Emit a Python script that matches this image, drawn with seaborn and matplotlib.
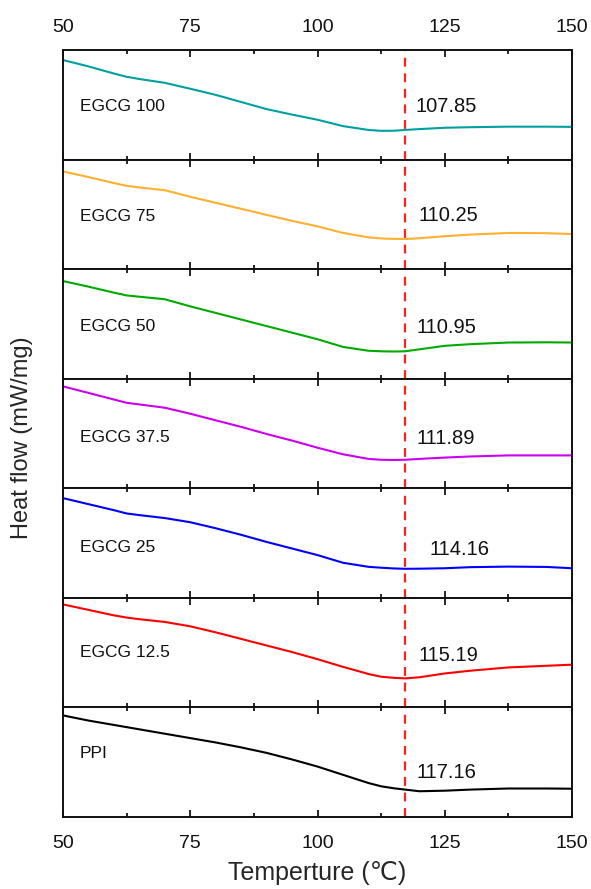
import numpy as np
import pandas as pd
import seaborn as sns
import matplotlib.pyplot as plt
from matplotlib.ticker import MultipleLocator

# Temperature sample points (°C)
temps = [50, 55, 60, 62.5, 65, 70, 75, 80, 85, 90, 95, 100, 105, 110,
         112.5, 115, 117.2, 120, 125, 130, 137.5, 145, 150]

# Heat flow, normalised per panel (1 = panel top, 0 = panel bottom)
egcg_100 = [0.908, 0.85, 0.785, 0.755, 0.735, 0.70, 0.646, 0.59, 0.525, 0.46, 0.41, 0.363,
            0.305, 0.27, 0.262, 0.263, 0.27, 0.278, 0.29, 0.295, 0.30, 0.30, 0.298]
egcg_75 = [0.891, 0.84, 0.785, 0.76, 0.745, 0.72, 0.66, 0.605, 0.55, 0.495, 0.44, 0.39,
           0.33, 0.29, 0.28, 0.276, 0.275, 0.282, 0.30, 0.315, 0.33, 0.328, 0.32]
egcg_50 = [0.891, 0.84, 0.785, 0.76, 0.748, 0.725, 0.66, 0.60, 0.54, 0.48, 0.42, 0.36,
           0.29, 0.255, 0.25, 0.248, 0.25, 0.268, 0.30, 0.315, 0.33, 0.332, 0.33]
egcg_375 = [0.93, 0.87, 0.81, 0.78, 0.765, 0.735, 0.68, 0.62, 0.56, 0.495, 0.435, 0.37,
            0.31, 0.268, 0.26, 0.258, 0.26, 0.268, 0.28, 0.29, 0.30, 0.30, 0.30]
egcg_25 = [0.91, 0.855, 0.80, 0.77, 0.755, 0.728, 0.69, 0.635, 0.575, 0.51, 0.45, 0.39,
           0.32, 0.283, 0.275, 0.268, 0.265, 0.266, 0.27, 0.28, 0.285, 0.282, 0.27]
egcg_125 = [0.94, 0.89, 0.84, 0.82, 0.805, 0.78, 0.74, 0.685, 0.625, 0.565, 0.505, 0.44,
            0.37, 0.305, 0.28, 0.27, 0.265, 0.275, 0.31, 0.335, 0.365, 0.38, 0.39]
ppi = [0.927, 0.88, 0.84, 0.82, 0.80, 0.76, 0.72, 0.68, 0.635, 0.585, 0.525, 0.46,
       0.385, 0.31, 0.28, 0.262, 0.25, 0.235, 0.24, 0.25, 0.26, 0.26, 0.258]

sample_names = ["EGCG 100", "EGCG 75", "EGCG 50", "EGCG 37.5", "EGCG 25", "EGCG 12.5", "PPI"]
peak_labels = ["107.85", "110.25", "110.95", "111.89", "114.16", "115.19", "117.16"]
series = [egcg_100, egcg_75, egcg_50, egcg_375, egcg_25, egcg_125, ppi]
colors = ["#00A0A0", "#FFB030", "#00AA00", "#CC00EE", "#0000FF", "#FF0000", "#000000"]

dashed_at = 117.2
name_y = [0.48, 0.48, 0.48, 0.46, 0.46, 0.50, 0.58]
peak_x = [119.2, 119.9, 119.4, 119.4, 121.9, 119.8, 119.5]
peak_y = [0.48, 0.49, 0.47, 0.45, 0.44, 0.47, 0.41]

sns.set_theme(style="ticks")
plt.rcParams['font.family'] = ['Liberation Sans', 'DejaVu Sans']
plt.rcParams['axes.linewidth'] = 1.4

fig = plt.figure(figsize=(5.91, 8.89), dpi=100)
gs = fig.add_gridspec(len(series), 1, left=0.1066, right=0.968, top=0.9438, bottom=0.081, hspace=0)

n = len(series)
for i, (name, vals, col) in enumerate(zip(sample_names, series, colors)):
    ax = fig.add_subplot(gs[i])
    df = pd.DataFrame({"T": temps, "hf": vals})
    sns.lineplot(data=df, x="T", y="hf", color=col, lw=1.5, ax=ax)
    ax.axvline(dashed_at, color="#FF2020", ls=(0, (4, 3)), lw=1.6)
    ax.set_xlim(50, 150)
    ax.set_ylim(0, 1)
    ax.set_yticks([])
    ax.set_xlabel("")
    ax.set_ylabel("")
    ax.xaxis.set_major_locator(MultipleLocator(25))
    ax.xaxis.set_minor_locator(MultipleLocator(12.5))
    ax.tick_params(axis="x", which="both", direction="in", top=True, bottom=True,
                   width=1.4, labelsize=14, labelcolor="#111111")
    ax.tick_params(axis="x", which="major", length=5)
    ax.tick_params(axis="x", which="minor", length=3)
    ax.tick_params(axis="x", labelbottom=(i == n - 1), labeltop=(i == 0),
                   pad=(10 if i == 0 else 13))
    for s in ax.spines.values():
        s.set_color("#111111")
    ax.text(53.3, name_y[i], name, fontsize=12.5, va="center", ha="left", color="#111111")
    ax.text(peak_x[i], peak_y[i], peak_labels[i], fontsize=14.5, va="center", ha="left", color="#111111")

fig.text(0.037, 0.508, "Heat flow (mW/mg)", rotation=90, va="center", ha="center", fontsize=17)
fig.text(0.537, 0.018, "Temperture (℃)", va="center", ha="center", fontsize=18)

fig.savefig("out.png", dpi=100)
